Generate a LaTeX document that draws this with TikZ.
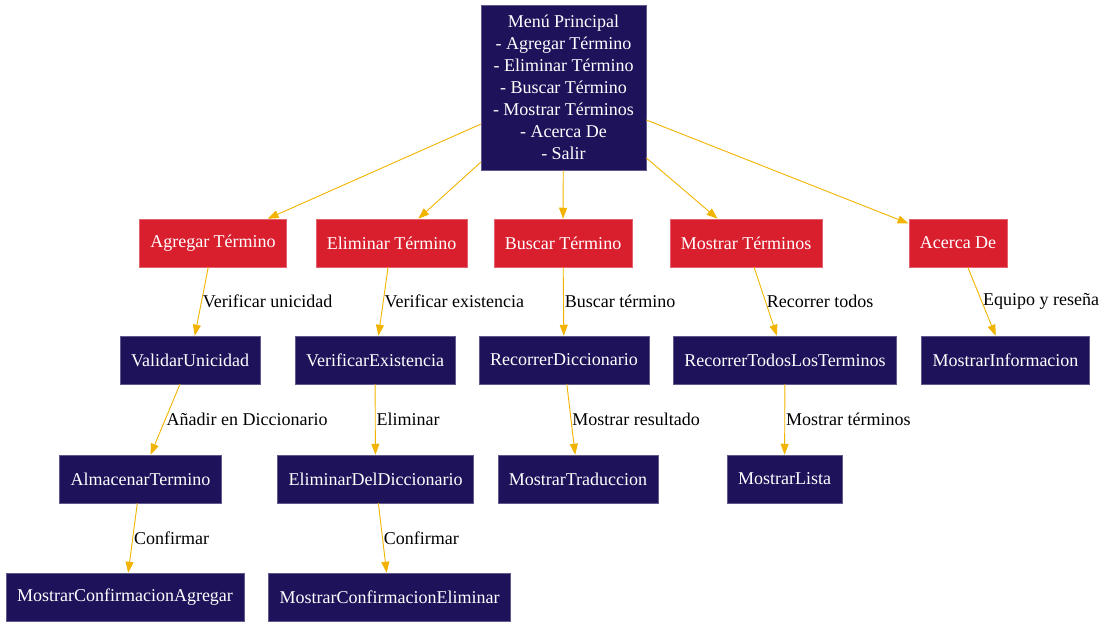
\documentclass[tikz,border=0pt]{standalone}
\usepackage{fontspec}
\setmainfont{Liberation Serif}
\usetikzlibrary{arrows.meta}

\definecolor{menunavy}{RGB}{30,18,90}
\definecolor{optred}{RGB}{217,31,46}
\definecolor{edgeorange}{RGB}{242,180,0}

\begin{document}
\begin{tikzpicture}[x=1pt, y=-1pt,
    -{Triangle[length=11pt,width=8pt]}, draw=edgeorange, line width=0.9pt,
    task/.style={rectangle, fill=menunavy, draw=menunavy!70!white, line width=0.5pt, text=white,
      minimum height=48pt, inner xsep=11pt},
    option/.style={rectangle, fill=optred, draw=optred!70!white, line width=0.5pt, text=white,
      minimum height=48pt, inner xsep=11pt},
    lbl/.style={midway, right, inner sep=1pt, text=black},
    font=\fontsize{18}{22}\selectfont
  ]
  \useasboundingbox (0,0) rectangle (1109,627);

  % Main menu
  \node[task, minimum width=165pt, minimum height=165pt, align=center] (menu) at (563.5,87.5)
    {Menú Principal\\- Agregar Término\\- Eliminar Término\\- Buscar Término\\- Mostrar Términos\\- Acerca De\\- Salir};

  % Options
  \node[option] (agregar) at (213,243) {Agregar Término};
  \node[option] (eliminar) at (391.5,243) {Eliminar Término};
  \node[option] (buscar) at (563,243) {Buscar Término};
  \node[option] (mostrar) at (746,243) {Mostrar Términos};
  \node[option] (acerca) at (958,243) {Acerca De};

  % Second level
  \node[task] (validar) at (190,360) {ValidarUnicidad};
  \node[task] (verificar) at (375,360) {VerificarExistencia};
  \node[task] (recorrer) at (564,360) {RecorrerDiccionario};
  \node[task] (recorrertodos) at (785,360) {RecorrerTodosLosTerminos};
  \node[task] (info) at (1005.5,360) {MostrarInformacion};

  % Third level
  \node[task] (almacenar) at (140.5,479) {AlmacenarTermino};
  \node[task] (eliminardic) at (375.5,479) {EliminarDelDiccionario};
  \node[task] (traduccion) at (578,479) {MostrarTraduccion};
  \node[task] (lista) at (784.5,479) {MostrarLista};

  % Fourth level
  \node[task] (confagregar) at (125,597) {MostrarConfirmacionAgregar};
  \node[task] (confeliminar) at (389.5,597) {MostrarConfirmacionEliminar};

  % Edges from menu
  \draw (menu) -- (agregar);
  \draw (menu) -- (eliminar);
  \draw (menu) -- (buscar);
  \draw (menu) -- (mostrar);
  \draw (menu) -- (acerca);

  % Edges with labels
  \draw (agregar) -- (validar) node[lbl] {Verificar unicidad};
  \draw (eliminar) -- (verificar) node[lbl] {Verificar existencia};
  \draw (buscar) -- (recorrer) node[lbl] {Buscar término};
  \draw (mostrar) -- (recorrertodos) node[lbl] {Recorrer todos};
  \draw (acerca) -- (info) node[lbl] {Equipo y reseña};

  \draw (validar) -- (almacenar) node[lbl] {Añadir en Diccionario};
  \draw (verificar) -- (eliminardic) node[lbl] {Eliminar};
  \draw (recorrer) -- (traduccion) node[lbl] {Mostrar resultado};
  \draw (recorrertodos) -- (lista) node[lbl] {Mostrar términos};

  \draw (almacenar) -- (confagregar) node[lbl] {Confirmar};
  \draw (eliminardic) -- (confeliminar) node[lbl] {Confirmar};

\end{tikzpicture}
\end{document}
